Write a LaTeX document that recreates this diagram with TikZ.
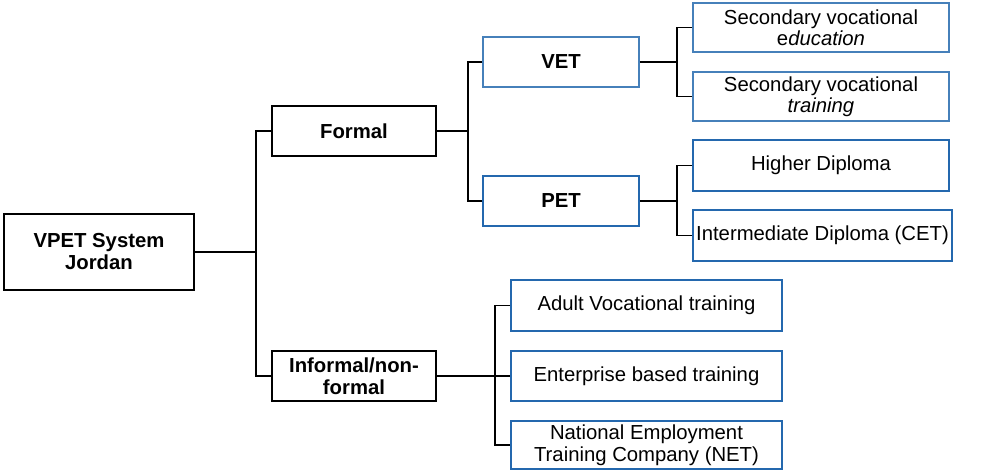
\documentclass[tikz,border=0pt]{standalone}
\usepackage{fontspec}
\setmainfont{Liberation Sans}
\definecolor{lblue}{RGB}{70,128,186}
\definecolor{dblue}{RGB}{36,104,174}
\begin{document}
\begin{tikzpicture}[x=1pt,y=-1pt,
  box/.style={draw=black,line width=1.9pt,rectangle,inner sep=0pt,align=center,
    font=\fontsize{20.3}{22}\selectfont\bfseries},
  lbox/.style={draw=lblue,line width=1.9pt,rectangle,inner sep=0pt,align=center,
    font=\fontsize{20.3}{21.5}\selectfont},
  dbox/.style={draw=dblue,line width=1.9pt,rectangle,inner sep=0pt,align=center,
    font=\fontsize{20.3}{21.5}\selectfont},
  conn/.style={draw=black,line width=1.9pt}]
\useasboundingbox (0,0) rectangle (982,471);
\node[box,minimum width=190pt,minimum height=76pt] (root) at (99,252) {VPET System\\Jordan};
\node[box,minimum width=164pt,minimum height=50pt] (formal) at (354,131) {Formal};
\node[box,minimum width=164pt,minimum height=50pt] (informal) at (354,376) {Informal/non-\\formal};
\node[lbox,minimum width=156pt,minimum height=50pt,font=\fontsize{20.3}{21.5}\selectfont\bfseries] (vet) at (561,62) {VET};
\node[dbox,minimum width=156pt,minimum height=50pt,font=\fontsize{20.3}{21.5}\selectfont\bfseries] (pet) at (561,201) {PET};
\node[lbox,minimum width=256pt,minimum height=49pt] (sve) at (821,27.5) {Secondary vocational\\e\textit{ducation}};
\node[lbox,minimum width=256pt,minimum height=49pt] (svt) at (821,96.5) {Secondary vocational\\\textit{training}};
\node[dbox,minimum width=256pt,minimum height=51pt] (hd) at (821,165.5) {Higher Diploma};
\node[dbox,minimum width=259pt,minimum height=51pt] (id) at (822.5,235.5) {Intermediate Diploma (CET)};
\node[dbox,minimum width=271pt,minimum height=51pt] (avt) at (646.5,305.5) {Adult Vocational training};
\node[dbox,minimum width=271pt,minimum height=50pt] (ebt) at (646.5,376) {Enterprise based training};
\node[dbox,minimum width=271pt,minimum height=48pt] (net) at (646.5,445) {National Employment\\Training Company (NET)};
\coordinate (t1) at (256,252);
\coordinate (t2) at (468,131);
\coordinate (t3) at (677,62);
\coordinate (t4) at (677,201);
\coordinate (t5) at (495,376);
\draw[conn] (root.east) -- (t1);
\draw[conn] (formal.west) -| (t1) |- (informal.west);
\draw[conn] (formal.east) -- (t2);
\draw[conn] (vet.west) -| (t2) |- (pet.west);
\draw[conn] (vet.east) -- (t3);
\draw[conn] (sve.west) -| (t3) |- (svt.west);
\draw[conn] (pet.east) -- (t4);
\draw[conn] (hd.west) -| (t4) |- (id.west);
\draw[conn] (informal.east) -- (t5);
\draw[conn] (avt.west) -| (t5) |- (net.west);
\draw[conn] (t5) -- (ebt.west);
\end{tikzpicture}
\end{document}
